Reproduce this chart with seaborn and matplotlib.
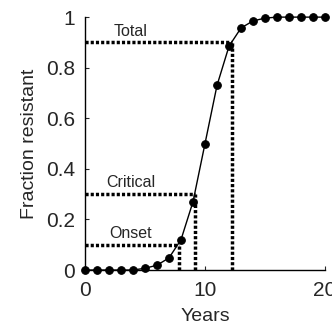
import matplotlib
matplotlib.use("Agg")
import matplotlib.pyplot as plt
import seaborn as sns
import pandas as pd

years = list(range(0, 21))
fraction = [0, 0, 0, 0, 0, 0.007, 0.019, 0.048, 0.12, 0.27, 0.5, 0.73,
            0.885, 0.957, 0.985, 0.996, 1.0, 1.0, 1.0, 1.0, 1.0]
threshold_names = ["Onset", "Critical", "Total"]
threshold_y = [0.1, 0.3, 0.9]
threshold_x = [7.85, 9.2, 12.25]
x_ticks = [0, 10, 20]
y_ticks = [0, 0.2, 0.4, 0.6, 0.8, 1]
y_ticklabels = ["0", "0.2", "0.4", "0.6", "0.8", "1"]

sns.set_style("ticks")
plt.rcParams['font.family'] = ['Liberation Sans', 'DejaVu Sans']

df = pd.DataFrame({"Years": years, "Fraction": fraction})

fig = plt.figure(figsize=(3.32, 3.23), dpi=100)
ax = fig.add_axes([0.256, 0.164, 0.723, 0.783])

dot_style = (0, (0.9, 0.6))
for name, ty, tx in zip(threshold_names, threshold_y, threshold_x):
    ax.plot([0, tx], [ty, ty], color="black", lw=2.5,
            linestyle=dot_style, dash_capstyle="butt", zorder=2, clip_on=False)
    ax.plot([tx, tx], [0, ty], color="black", lw=2.5,
            linestyle=dot_style, dash_capstyle="butt", zorder=2, clip_on=False)
    ax.text(3.8, ty + 0.015, name, ha="center", va="bottom", fontsize=11.5)

sns.lineplot(data=df, x="Years", y="Fraction", ax=ax, color="black",
             marker="o", markersize=5.5, linewidth=1.0, markeredgecolor="black",
             zorder=3, clip_on=False)

ax.set_xlim(0, 20)
ax.set_ylim(0, 1)
ax.set_xticks(x_ticks)
ax.set_yticks(y_ticks)
ax.set_yticklabels(y_ticklabels)
ax.tick_params(direction="in", length=3, width=0.8, labelsize=15)
ax.tick_params(axis="y", pad=7)
ax.tick_params(axis="x", pad=8)
ax.set_xlabel("Years", fontsize=14, labelpad=6)
ax.set_ylabel("Fraction resistant", fontsize=14, labelpad=6)
for s in ["top", "right"]:
    ax.spines[s].set_visible(False)
for s in ["left", "bottom"]:
    ax.spines[s].set_linewidth(1.0)
    ax.spines[s].set_color("black")

fig.savefig("out.png", dpi=100)
